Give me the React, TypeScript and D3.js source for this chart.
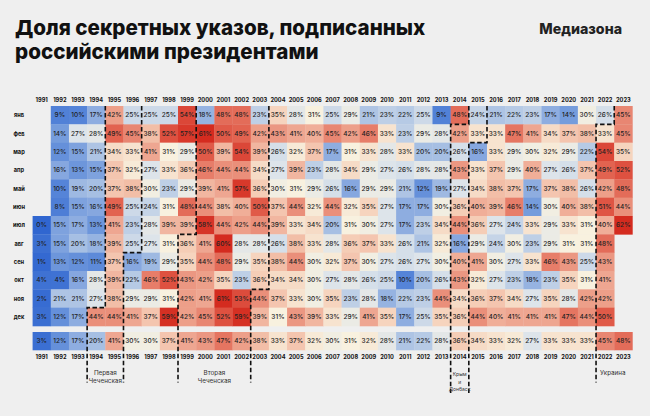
import React from "react";
import * as d3 from "d3";

const years = [1991,1992,1993,1994,1995,1996,1997,1998,1999,2000,2001,2002,2003,2004,2005,2006,2007,2008,2009,2010,2011,2012,2013,2014,2015,2016,2017,2018,2019,2020,2021,2022,2023];
const months = ["янв","фев","мар","апр","май","июн","июл","авг","сен","окт","ноя","дек"];

const jan = [null,9,10,17,42,25,25,25,54,18,48,48,23,35,28,31,25,29,21,23,22,25,9,48,24,21,22,23,17,14,30,26,45];
const feb = [null,14,27,28,49,45,38,52,57,61,50,49,42,43,41,40,45,42,46,33,23,29,28,42,33,33,47,41,34,37,38,33,45];
const mar = [null,12,15,21,34,33,41,31,29,50,39,54,39,26,32,37,17,31,33,28,33,20,20,26,16,33,29,30,32,29,22,54,35];
const apr = [null,16,13,15,37,32,27,33,36,46,44,44,34,27,39,23,28,34,29,27,26,28,28,43,33,37,29,40,27,26,37,49,52];
const may = [null,10,19,20,37,38,30,23,29,39,41,57,36,30,31,29,26,16,29,29,21,12,19,27,34,38,37,17,37,38,26,42,48];
const jun = [null,8,15,16,49,25,24,31,48,44,38,40,50,37,44,32,44,32,35,27,17,17,30,36,40,39,46,14,30,40,38,51,44];
const jul = [0,15,17,13,41,23,28,39,39,58,44,42,44,39,33,34,20,31,30,27,17,23,34,44,36,27,24,33,29,33,31,40,62];
const aug = [3,15,20,18,39,25,27,31,36,41,60,28,28,26,38,33,28,36,37,33,26,21,32,16,29,24,30,23,29,31,31,48,null];
const sep = [1,13,12,11,37,16,19,29,35,44,48,29,35,38,44,30,32,37,30,27,26,27,30,40,41,30,27,33,46,43,25,43,null];
const oct = [4,4,16,28,39,22,46,52,43,42,35,23,36,34,34,30,27,28,26,25,10,20,26,43,32,27,23,18,23,35,31,41,null];
const nov = [2,21,21,27,38,29,29,31,42,41,61,53,44,37,33,30,35,23,28,18,22,23,44,34,36,37,34,27,35,28,42,42,null];
const dec = [3,12,17,44,44,41,37,59,42,45,52,59,39,31,43,39,33,29,41,35,17,25,35,36,44,40,41,41,41,47,44,50,null];
const total = [3,12,17,20,41,30,30,37,41,43,47,42,38,33,37,32,30,31,32,28,21,22,28,36,34,33,32,27,33,33,33,45,48];

const monthRows = [jan, feb, mar, apr, may, jun, jul, aug, sep, oct, nov, dec];

// period boundaries: year, month (1-12), kind
const boundaries = [
  { year: 1994, month: 12, kind: "start" },
  { year: 1996, month: 8, kind: "end" },
  { year: 1999, month: 8, kind: "start" },
  { year: 2003, month: 10, kind: "end" },
  { year: 2014, month: 2, kind: "start" },
  { year: 2015, month: 2, kind: "end" },
  { year: 2022, month: 2, kind: "start" },
];

const periodLabels = [
  { lines: ["Первая", "Чеченская"], from: 1994, to: 1995, align: "middle" },
  { lines: ["Вторая", "Чеченская"], from: 1999, to: 2002, align: "middle" },
  { lines: ["Крым", "и", "Донбасс"], from: 2014, to: 2014, align: "middle" },
  { lines: ["Украина"], from: 2022, to: 2022, align: "start" },
];

const BG = "#efefef";
const FONT = "Inter, 'DejaVu Sans', sans-serif";

export default function App() {
  const x = d3.scaleBand<number>().domain(years).range([32.6, 632.4]).padding(0);
  const y = d3.scaleBand<string>().domain(months).range([106, 326]).padding(0);
  const totalTop = 332;
  const totalH = 18.3;
  const color = d3
    .scaleLinear<string>()
    .domain([0, 10, 20, 27, 31, 36, 44, 50, 60])
    .range(["#3066d0", "#5584d8", "#a6bfe3", "#dde4ea", "#f8f1df", "#f5cdb6", "#ea8f7a", "#e05a48", "#d42b1f"])
    .interpolate(d3.interpolateRgb)
    .clamp(true);

  const bw = x.bandwidth();
  const bh = y.bandwidth();
  const gridTop = y.range()[0];

  const lineH = 7.5;

  const stepPath = (b: { year: number; month: number; kind: string }) => {
    const xr = (x(b.year) as number) + bw;
    const xl = x(b.year) as number;
    const m = months[b.month - 1];
    const breakY = b.kind === "start" ? (y(m) as number) : (y(m) as number) + bh;
    const n = b.year === 2014 || b.year === 2015 ? 3 : 2;
    const bottom = (n === 3 ? 376 : 373) + (n - 1) * lineH + 2;
    return `M${xr},${gridTop}V${breakY}H${xl}V${bottom}`;
  };

  return (
    <svg width={650} height={416} style={{ position: "absolute", left: 0, top: 0, background: BG }} fontFamily={FONT}>
      <rect x={0} y={0} width={650} height={416} fill={BG} />
      <text x={15} y={35} fontSize={20.6} fontWeight={800} fill="#111">Доля секретных указов, подписанных</text>
      <text x={15} y={59} fontSize={20.6} fontWeight={800} fill="#111">российскими президентами</text>
      <text x={622} y={34} fontSize={14.2} fontWeight={800} fill="#222" textAnchor="end">Медиазона</text>

      {years.map((yr) => (
        <g key={"yl" + yr}>
          <text x={(x(yr) as number) + bw / 2} y={102} fontSize={5.7} fontWeight={700} textAnchor="middle" fill="#111">{yr}</text>
          <text x={(x(yr) as number) + bw / 2} y={359} fontSize={5.7} fontWeight={700} textAnchor="middle" fill="#111">{yr}</text>
        </g>
      ))}

      {months.map((m) => (
        <text key={"ml" + m} x={19} y={(y(m) as number) + bh / 2 + 2} fontSize={5.7} fontWeight={700} textAnchor="middle" fill="#111">{m}</text>
      ))}

      {monthRows.map((row, mi) =>
        row.map((v, yi) =>
          v === null ? null : (
            <g key={`c${mi}-${yi}`}>
              <rect x={x(years[yi])} y={y(months[mi])} width={bw + 0.3} height={bh + 0.3} fill={color(v)} />
              <text x={(x(years[yi]) as number) + bw / 2} y={(y(months[mi]) as number) + bh / 2 + 2.3} fontSize={6.5} fontWeight={500} textAnchor="middle" fill="#222">{v}%</text>
            </g>
          )
        )
      )}

      {total.map((v, yi) => (
        <g key={"t" + yi}>
          <rect x={x(years[yi])} y={totalTop} width={bw + 0.3} height={totalH} fill={color(v)} />
          <text x={(x(years[yi]) as number) + bw / 2} y={totalTop + totalH / 2 + 2.3} fontSize={6.5} fontWeight={500} textAnchor="middle" fill="#222">{v}%</text>
        </g>
      ))}

      {boundaries.map((b, i) => (
        <path key={"b" + i} d={stepPath(b)} fill="none" stroke="#111" strokeWidth={1.6} strokeDasharray="4.5,2.5" />
      ))}

      {periodLabels.map((p, i) => {
        const x0 = x(p.from) as number;
        const x1 = (x(p.to) as number) + bw;
        const small = p.lines.length === 3;
        const cx = p.align === "middle" ? (x0 + x1) / 2 : x0 + 4;
        return (
          <text key={"pl" + i} fontSize={small ? 5 : 6.3} fill="#333" textAnchor={p.align === "middle" ? "middle" : "start"}>
            {p.lines.map((l, j) => (
              <tspan key={j} x={cx} y={(small ? 376 : 375) + j * lineH}>{l}</tspan>
            ))}
          </text>
        );
      })}
    </svg>
  );
}
